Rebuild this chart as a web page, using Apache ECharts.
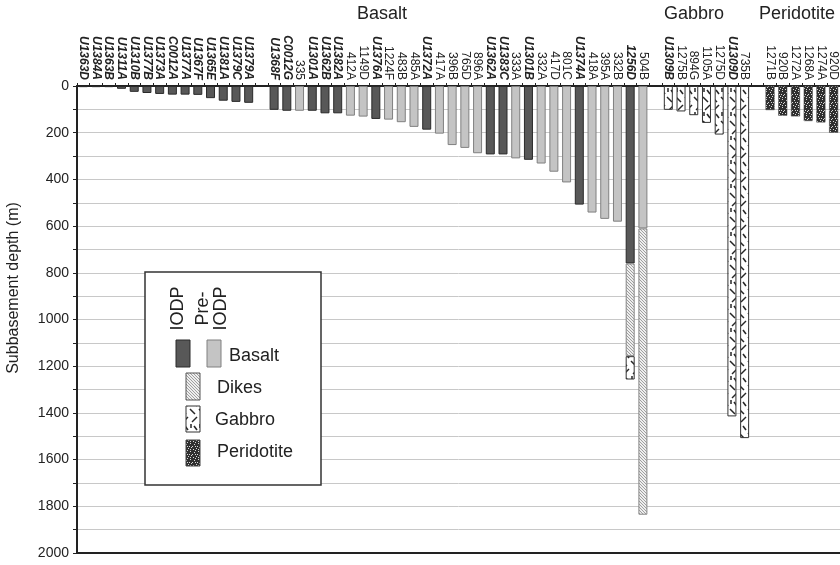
<!DOCTYPE html>
<html>
<head>
<meta charset="utf-8">
<script src="https://cdn.jsdelivr.net/npm/echarts@6/dist/echarts.min.js"></script>
<style>
  html, body { margin: 0; padding: 0; background: #fff; }
  #chart { width: 840px; height: 565px; }
</style>
</head>
<body>
<div id="chart"></div>
<script>
// holes in plotting order, a blank slot sits between the blocks
const basaltHolesA = ['U1363D','U1384A','U1363B','U1311A','U1310B','U1377B','U1373A','C0012A','U1377A','U1367F','U1365E','U1381A','U1379C','U1379A'];
const basaltDepthA = [5, 5, 5, 12, 25, 30, 34, 37, 37, 38, 52, 63, 68, 72];

const basaltHolesB = ['U1368F','C0012G','335','U1301A','U1362B','U1382A','412A','1149D','U1376A','1224F','483B','485A','U1372A','417A','396B','765D','896A','U1362A','U1383C','333A','U1301B','332A','417D','801C','U1374A','418A','395A','332B','1256D','504B'];
const basaltDepthB = [102, 106, 106, 106, 117, 117, 127, 131, 141, 144, 155, 175, 187, 204, 253, 265, 288, 293, 293, 310, 316, 332, 367, 413, 508, 542, 569, 581, 760, 610];

const gabbroHoles = ['U1309B','1275B','894G','1105A','1275D','U1309D','735B'];
const gabbroDepth = [102, 109, 125, 158, 208, 1415, 1508];

const peridotiteHoles = ['1271B','920B','1272A','1268A','1274A','920D'];
const peridotiteDepth = [103, 127, 130, 150, 156, 200];

// sheeted dikes and gabbro below the lavas (thickness in m)
const dikeHoles = ['1256D', '504B'];
const dikeThick = [397, 1226];
const deepGabbroHoles = ['1256D'];
const deepGabbroThick = [100];

// holes drilled by IODP (bold italic labels, dark bars)
const iodpHoles = ['U1363D','U1384A','U1363B','U1311A','U1310B','U1377B','U1373A','C0012A','U1377A','U1367F','U1365E','U1381A','U1379C','U1379A',
  'U1368F','C0012G','U1301A','U1362B','U1382A','U1376A','U1372A','U1362A','U1383C','U1301B','U1374A','1256D','U1309B','U1309D'];

const yTicks = [0, 200, 400, 600, 800, 1000, 1200, 1400, 1600, 1800, 2000];

const holes = [].concat(basaltHolesA, [''], basaltHolesB, [''], gabbroHoles, [''], peridotiteHoles);

function column(names, vals) {
  return holes.map(h => {
    const i = names.indexOf(h);
    return i < 0 ? '-' : vals[i];
  });
}

const basaltNames = basaltHolesA.concat(basaltHolesB);
const basaltVals = basaltDepthA.concat(basaltDepthB);
const iodpBasalt = holes.map(h => {
  const i = basaltNames.indexOf(h);
  return (i >= 0 && iodpHoles.includes(h)) ? basaltVals[i] : '-';
});
const preBasalt = holes.map(h => {
  const i = basaltNames.indexOf(h);
  return (i >= 0 && !iodpHoles.includes(h)) ? basaltVals[i] : '-';
});
const dikes = column(dikeHoles, dikeThick);
const gabbro = column(gabbroHoles.concat(deepGabbroHoles), gabbroDepth.concat(deepGabbroThick));
const peridotite = column(peridotiteHoles, peridotiteDepth);

// fill patterns
function makeCanvas(w, h, draw) {
  const c = document.createElement('canvas');
  c.width = w; c.height = h;
  draw(c.getContext('2d'));
  return c;
}
const dikeTile = makeCanvas(6, 6, g => {
  g.fillStyle = '#eeeeee'; g.fillRect(0, 0, 6, 6);
  g.strokeStyle = '#8a8a8a'; g.lineWidth = 0.8;
  [-6, -3, 0, 3, 6].forEach(o => { g.beginPath(); g.moveTo(o, 0); g.lineTo(o + 6, 6); g.stroke(); });
});
const gabbroTile = makeCanvas(9, 24, g => {
  g.fillStyle = '#fff'; g.fillRect(0, 0, 9, 24);
  g.strokeStyle = '#262626'; g.lineWidth = 1.5;
  const strokes = [[1, 1, 6, 6], [8, 9, 3, 14], [2, 16, 2, 20], [5, 18, 8, 22]];
  strokes.forEach(s => { g.beginPath(); g.moveTo(s[0], s[1]); g.lineTo(s[2], s[3]); g.stroke(); });
});
const periTile = makeCanvas(8, 8, g => {
  g.fillStyle = '#2f2f2f'; g.fillRect(0, 0, 8, 8);
  g.fillStyle = '#d8d8d8';
  [[1,1],[4,0],[6,3],[2,4],[5,6],[0,6],[3,2],[7,7],[6,1],[3,6]].forEach(p => g.fillRect(p[0], p[1], 1, 1));
});
const dikeFill = { image: dikeTile, repeat: 'repeat' };
const gabbroFill = { image: gabbroTile, repeat: 'repeat' };
const periFill = { image: periTile, repeat: 'repeat' };

const font = 'Liberation Sans, Arial, sans-serif';
const dark = '#585858', light = '#c4c4c4';

const chart = echarts.init(document.getElementById('chart'));

const option = {
  animation: false,
  grid: { left: 77, right: -3, top: 86, bottom: 12 },
  xAxis: [{
    type: 'category',
    data: holes,
    position: 'top',
    axisLine: { onZero: false, lineStyle: { color: '#222', width: 2 } },
    axisTick: { show: true, length: 3, lineStyle: { color: '#222' } },
    axisLabel: {
      rotate: 90, interval: 0, margin: 6, fontSize: 12, color: '#222', fontFamily: font,
      formatter: v => iodpHoles.includes(v) ? '{b|' + v + '}' : v,
      rich: { b: { fontWeight: 'bold', fontStyle: 'italic', fontSize: 12, fontFamily: font, color: '#222' } }
    }
  }, {
    type: 'category',
    data: holes,
    position: 'bottom',
    axisLine: { onZero: false, lineStyle: { color: '#222', width: 2 } },
    axisTick: { show: false },
    axisLabel: { show: false }
  }],
  yAxis: {
    type: 'value',
    inverse: true,
    min: 0, max: 2000, interval: 100,
    axisLine: { show: true, lineStyle: { color: '#222', width: 2 } },
    axisTick: { show: true, length: 4, lineStyle: { color: '#222' } },
    axisLabel: {
      fontSize: 14, color: '#222', fontFamily: font, margin: 8,
      formatter: v => yTicks.includes(v) ? String(v) : ''
    },
    splitLine: { lineStyle: { color: '#c8c8c8', width: 1 } }
  },
  series: [
    { name: 'IODP basalt', type: 'bar', stack: 'd', barWidth: 9, data: iodpBasalt,
      itemStyle: { color: dark, borderColor: '#2a2a2a', borderWidth: 1 } },
    { name: 'Pre-IODP basalt', type: 'bar', stack: 'd', barWidth: 9, data: preBasalt,
      itemStyle: { color: light, borderColor: '#808080', borderWidth: 1 } },
    { name: 'Dikes', type: 'bar', stack: 'd', barWidth: 9, data: dikes,
      itemStyle: { color: dikeFill, borderColor: '#888', borderWidth: 1 } },
    { name: 'Gabbro', type: 'bar', stack: 'd', barWidth: 9, data: gabbro,
      itemStyle: { color: gabbroFill, borderColor: '#333', borderWidth: 1 } },
    { name: 'Peridotite', type: 'bar', stack: 'd', barWidth: 9, data: peridotite,
      itemStyle: { color: periFill, borderColor: '#444', borderWidth: 0.5 } }
  ],
  graphic: [
    { type: 'text', x: 382, y: 14, style: { text: 'Basalt', font: '18px ' + font, fill: '#222', textAlign: 'center', textVerticalAlign: 'middle' } },
    { type: 'text', x: 694, y: 14, style: { text: 'Gabbro', font: '18px ' + font, fill: '#222', textAlign: 'center', textVerticalAlign: 'middle' } },
    { type: 'text', x: 797, y: 14, style: { text: 'Peridotite', font: '18px ' + font, fill: '#222', textAlign: 'center', textVerticalAlign: 'middle' } },
    { type: 'text', x: 14, y: 288, rotation: Math.PI / 2,
      style: { text: 'Subbasement depth (m)', font: '16px ' + font, fill: '#222', textAlign: 'center', textVerticalAlign: 'middle' } },
    // legend box
    { type: 'rect', shape: { x: 145, y: 272, width: 176, height: 213 }, style: { fill: '#fff', stroke: '#333', lineWidth: 1.5 }, z: 10 },
    { type: 'text', x: 178, y: 308.5, rotation: Math.PI / 2, z: 11,
      style: { text: 'IODP', font: '18px ' + font, fill: '#222', textAlign: 'center', textVerticalAlign: 'middle' } },
    { type: 'text', x: 212, y: 308.5, rotation: Math.PI / 2, z: 11,
      style: { text: 'Pre-\nIODP', font: '18px ' + font, lineHeight: 18, fill: '#222', textAlign: 'center', textVerticalAlign: 'middle' } },
    { type: 'rect', z: 11, shape: { x: 176, y: 340, width: 14, height: 27 }, style: { fill: dark, stroke: '#2a2a2a', lineWidth: 1 } },
    { type: 'rect', z: 11, shape: { x: 207, y: 340, width: 14, height: 27 }, style: { fill: light, stroke: '#808080', lineWidth: 1 } },
    { type: 'text', z: 11, x: 229, y: 356, style: { text: 'Basalt', font: '18px ' + font, fill: '#222', textVerticalAlign: 'middle' } },
    { type: 'rect', z: 11, shape: { x: 186, y: 373, width: 14, height: 27 }, style: { fill: dikeFill, stroke: '#555', lineWidth: 1 } },
    { type: 'text', z: 11, x: 217, y: 388, style: { text: 'Dikes', font: '18px ' + font, fill: '#222', textVerticalAlign: 'middle' } },
    { type: 'rect', z: 11, shape: { x: 186, y: 406, width: 14, height: 26 }, style: { fill: gabbroFill, stroke: '#333', lineWidth: 1 } },
    { type: 'text', z: 11, x: 215, y: 420, style: { text: 'Gabbro', font: '18px ' + font, fill: '#222', textVerticalAlign: 'middle' } },
    { type: 'rect', z: 11, shape: { x: 186, y: 440, width: 14, height: 26 }, style: { fill: periFill, stroke: '#444', lineWidth: 1 } },
    { type: 'text', z: 11, x: 217, y: 452, style: { text: 'Peridotite', font: '18px ' + font, fill: '#222', textVerticalAlign: 'middle' } }
  ]
};

chart.setOption(option);
</script>
</body>
</html>
